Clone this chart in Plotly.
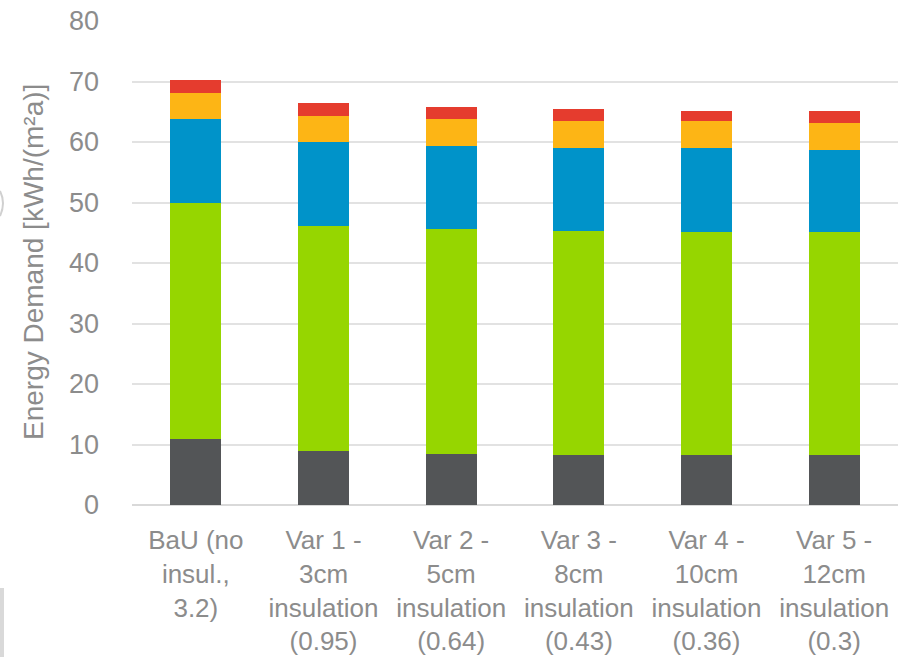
import plotly.graph_objects as go

# Categories (insulation variants, U-value in brackets)
categories = [
    "BaU (no<br>insul.,<br>3.2)",
    "Var 1 -<br>3cm<br>insulation<br>(0.95)",
    "Var 2 -<br>5cm<br>insulation<br>(0.64)",
    "Var 3 -<br>8cm<br>insulation<br>(0.43)",
    "Var 4 -<br>10cm<br>insulation<br>(0.36)",
    "Var 5 -<br>12cm<br>insulation<br>(0.3)",
]

# Stacked energy demand components [kWh/(m²a)], bottom to top
seg_gray = [10.9, 9.0, 8.5, 8.3, 8.3, 8.3]
seg_green = [39.0, 37.1, 37.1, 37.0, 36.8, 36.8]
seg_blue = [13.9, 13.9, 13.7, 13.7, 13.9, 13.6]
seg_orange = [4.3, 4.3, 4.5, 4.4, 4.4, 4.4]
seg_red = [2.1, 2.1, 2.0, 2.0, 1.8, 2.1]

y_ticks = [0, 10, 20, 30, 40, 50, 60, 70, 80]

series = [
    (seg_gray, "#535557"),
    (seg_green, "#96d600"),
    (seg_blue, "#0093c9"),
    (seg_orange, "#fdb515"),
    (seg_red, "#e53c2e"),
]

fig = go.Figure()
for vals, col in series:
    fig.add_trace(go.Bar(
        x=categories, y=vals,
        marker=dict(color=col, line=dict(width=0)),
        showlegend=False,
    ))

font_family = "Liberation Sans, Arial, sans-serif"
txt_col = "#8c8c8c"

# plot area in pixels, used to place the decorative edge marks
L, R, T, B = 132, 5, 21, 152
PW, PH = 903 - L - R, 657 - T - B


def px(x):
    return (x - L) / PW


def py(y):
    return (T + PH - y) / PH


fig.update_layout(
    width=903, height=657,
    barmode="stack",
    bargap=0.6,
    plot_bgcolor="white",
    paper_bgcolor="white",
    margin=dict(l=L, r=R, t=T, b=B),
    font=dict(family=font_family, color=txt_col),
    xaxis=dict(
        tickfont=dict(size=26, color=txt_col),
        showgrid=False,
        showline=False,
        ticks="",
        ticklabelstandoff=17,
        automargin=False,
    ),
    yaxis=dict(
        range=[0, 80],
        tickvals=y_ticks,
        tickfont=dict(size=27, color=txt_col),
        showgrid=True,
        gridcolor="#e2e2e2",
        gridwidth=2,
        zeroline=True,
        zerolinecolor="#d9d9d9",
        zerolinewidth=2,
        showline=False,
        ticks="",
        ticklabelstandoff=32,
        automargin=False,
    ),
    annotations=[dict(
        text="Energy Demand [kWh/(m²a)]",
        xref="paper", yref="paper",
        x=px(33), y=py(262),
        xanchor="center", yanchor="middle",
        textangle=-90,
        showarrow=False,
        font=dict(size=28, color=txt_col, family=font_family),
    )],
    shapes=[
        dict(
            type="rect", xref="paper", yref="paper",
            x0=px(0), x1=px(4), y0=py(588), y1=py(657),
            fillcolor="#d9d9d9", line=dict(width=0),
        ),
        dict(
            type="path", xref="paper", yref="paper",
            path=(f"M {px(0)},{py(191)} Q {px(6)},{py(203)} {px(0)},{py(216)}"),
            line=dict(color="#d0d0d0", width=2),
        ),
    ],
)

fig.write_html("out.html")
